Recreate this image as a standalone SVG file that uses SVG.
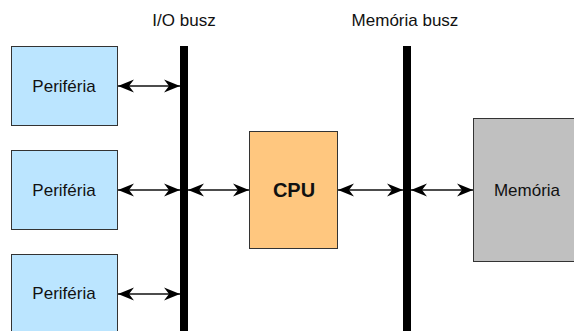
<svg xmlns="http://www.w3.org/2000/svg" width="574" height="331" viewBox="0 0 574 331">
  <style>
    .lbl { font-family: "Liberation Sans", Arial, sans-serif; font-size: 17px; fill: #111; text-anchor: middle; }
    .box { stroke: #333; stroke-width: 1; }
    .peri { fill: #bbe5ff; }
    .cpu { fill: #ffc77f; }
    .mem { fill: #c0c0c0; }
    .bus { fill: #000; }
    .link { stroke: #111; stroke-width: 1.5; fill: none; marker-start: url(#head); marker-end: url(#head); }
  </style>
  <defs>
    <marker id="head" markerUnits="userSpaceOnUse" markerWidth="18" markerHeight="15" viewBox="-17 -7.5 18 15" refX="0" refY="0" orient="auto-start-reverse">
      <path d="M0,0 L-16,-6.5 L-11,0 L-16,6.5 Z" fill="#000"/>
    </marker>
  </defs>
  <rect width="574" height="331" fill="#fff"/>

  <!-- bus labels -->
  <text class="lbl" x="184" y="26">I/O busz</text>
  <text class="lbl" x="405" y="26">Memória busz</text>

  <!-- buses -->
  <g id="io-bus"><rect class="bus" x="180" y="46" width="8" height="290"/></g>
  <g id="mem-bus"><rect class="bus" x="403" y="46" width="8" height="290"/></g>

  <!-- peripherals -->
  <g id="periferia-1">
    <rect class="box peri" x="11.5" y="46.5" width="106" height="79"/>
    <text class="lbl" x="64" y="92">Periféria</text>
  </g>
  <g id="periferia-2">
    <rect class="box peri" x="11.5" y="150.5" width="106" height="79"/>
    <text class="lbl" x="64" y="196">Periféria</text>
  </g>
  <g id="periferia-3">
    <rect class="box peri" x="11.5" y="254.5" width="106" height="79"/>
    <text class="lbl" x="64" y="299">Periféria</text>
  </g>

  <!-- processor -->
  <g id="cpu">
    <rect class="box cpu" x="249.5" y="131.5" width="88" height="117"/>
    <text class="lbl" x="294" y="197" style="font-size:20px;font-weight:bold">CPU</text>
  </g>

  <!-- main memory -->
  <g id="memoria">
    <rect class="box mem" x="473.5" y="118.5" width="107" height="143"/>
    <text class="lbl" x="527" y="196">Memória</text>
  </g>

  <!-- connectors -->
  <g id="connectors">
    <line class="link" x1="118" y1="86" x2="180" y2="86"/>
    <line class="link" x1="118" y1="190" x2="180" y2="190"/>
    <line class="link" x1="118" y1="294" x2="180" y2="294"/>
    <line class="link" x1="188" y1="190" x2="249" y2="190"/>
    <line class="link" x1="338" y1="190" x2="403" y2="190"/>
    <line class="link" x1="411" y1="190" x2="473" y2="190"/>
  </g>
</svg>
